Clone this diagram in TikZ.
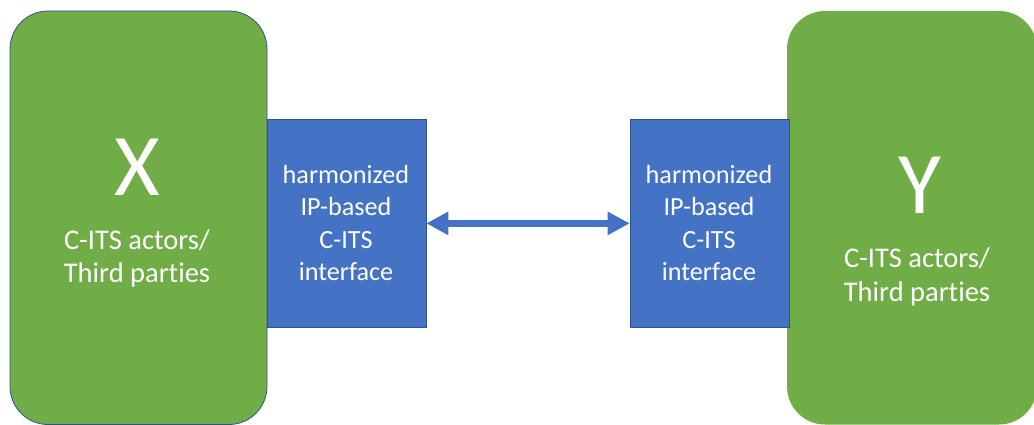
\documentclass[tikz,border=0pt]{standalone}
\usepackage{fontspec}
\setmainfont{Carlito}[Ligatures=NoCommon]
\usetikzlibrary{arrows.meta}
\definecolor{cgreen}{HTML}{70AD47}
\definecolor{cblue}{HTML}{4472C4}
\definecolor{cedge}{HTML}{2F528F}
\tikzset{
  actor/.style={fill=cgreen, rounded corners=38pt, inner sep=0pt, minimum width=#1, minimum height=413.5pt},
  iface/.style={fill=cblue, draw=cedge, line width=0.6pt, inner sep=0pt, minimum width=159pt, minimum height=208.5pt},
  iftext/.style={text=white, align=center, inner sep=0pt, anchor=base, font=\fontsize{26.2}{32.3}\selectfont},
  bigletter/.style={text=white, inner sep=0pt, anchor=base, font=\fontsize{88}{100}\selectfont},
  actortext/.style={text=white, align=center, inner sep=0pt, anchor=base, font=\fontsize{28.5}{#1}\selectfont},
  link/.style={cblue, line width=7.3pt, {Triangle[length=22pt,width=22pt]}-{Triangle[length=22pt,width=22pt]}}
}
\begin{document}
\begin{tikzpicture}[x=1pt,y=-1pt]
\useasboundingbox (0,0) rectangle (1034,425);
\node[actor=257pt, draw=cedge, line width=0.8pt] (X) at (138.5,217.75) {};
\node[actor=250pt] (Y) at (912,217.75) {};
\node[iface] (lb) at (346.5,223.4) {};
\node[iface] (rb) at (709.5,223.4) {};
\draw[link] (lb.east) -- (rb.west);
\node[bigletter] (xl) at (137.5,196) {X};
\node[actortext=33pt] (xt) at (137,282) {C-ITS actors/\\Third parties};
\node[bigletter] (yl) at (920,214) {Y};
\node[actortext=34.5pt] (yt) at (917,301.5) {C-ITS actors/\\Third parties};
\node[iftext] (lt) at (346,280.5) {harmonized\\IP-based\\C-ITS\\interface};
\node[iftext] (rt) at (709,280.5) {harmonized\\IP-based\\C-ITS\\interface};
\end{tikzpicture}
\end{document}
